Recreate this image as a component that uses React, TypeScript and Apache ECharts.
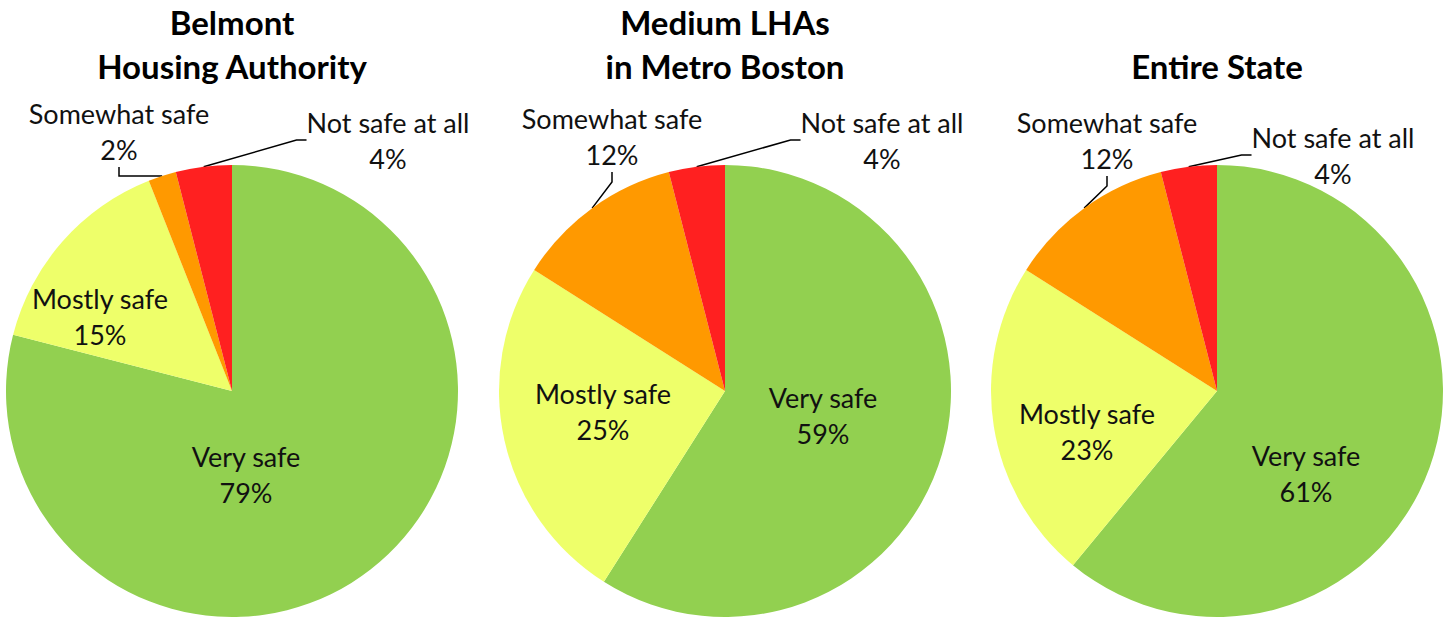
import React, { useEffect, useRef } from 'react';
import * as echarts from 'echarts';

const TITLES = ['Belmont\nHousing Authority', 'Medium LHAs\nin Metro Boston', 'Entire State'];
const CATEGORIES = ['Very safe', 'Mostly safe', 'Somewhat safe', 'Not safe at all'];
const BELMONT = [79, 15, 2, 4];
const MEDIUM_LHAS = [59, 25, 12, 4];
const ENTIRE_STATE = [61, 23, 12, 4];
const SERIES_VALUES = [BELMONT, MEDIUM_LHAS, ENTIRE_STATE];

const COLORS = ['#92D050', '#EEFF6A', '#FF9900', '#FF2020'];
const OUTSIDE = [false, false, true, true];

// layout (not data): pie centres and label anchor centres
const PIE_CENTERS: [number, number][] = [
  [232, 391],
  [725, 391],
  [1217, 391],
];
const PIE_RADIUS = 226;
const LABEL_POS: [number, number][][] = [
  [[246, 474], [100, 316], [119, 131], [388, 140]],
  [[823, 415], [603, 411], [612, 136], [882, 140]],
  [[1306, 473], [1087, 431], [1107, 140], [1333, 155]],
];
const TITLE_TOPS = [0, 0, 44];

const FONT = 'Lato, "Open Sans", sans-serif';

export default function App() {
  const ref = useRef<HTMLDivElement>(null);
  useEffect(() => {
    if (!ref.current) return;
    const chart = echarts.init(ref.current, undefined, { renderer: 'svg' });
    const option = {
      animation: false,
      backgroundColor: '#ffffff',
      title: TITLES.map((t, i) => ({
        text: t,
        left: PIE_CENTERS[i][0],
        top: TITLE_TOPS[i],
        textAlign: 'center',
        padding: 0,
        textStyle: {
          fontFamily: FONT,
          fontWeight: 'bold',
          fontSize: 33,
          lineHeight: 44,
          color: '#000',
        },
      })),
      series: SERIES_VALUES.map((vals, si) => ({
        type: 'pie',
        center: PIE_CENTERS[si],
        radius: PIE_RADIUS,
        startAngle: 90,
        clockwise: true,
        avoidLabelOverlap: false,
        silent: true,
        itemStyle: { borderWidth: 0 },
        label: {
          show: true,
          position: 'inside',
          formatter: '{b}\n{c}%',
          fontFamily: FONT,
          fontSize: 27,
          lineHeight: 36,
          color: '#111',
        },
        labelLine: {
          show: true,
          length: 15,
          length2: 10,
          lineStyle: { color: '#000', width: 1.5 },
        },
        labelLayout: (params: any) => {
          const p = LABEL_POS[params.seriesIndex][params.dataIndex];
          return { x: p[0], y: p[1], align: 'center', verticalAlign: 'middle' };
        },
        data: CATEGORIES.map((name, i) => ({
          name,
          value: vals[i],
          itemStyle: { color: COLORS[i] },
          label: { position: OUTSIDE[i] ? 'outside' : 'inside' },
          labelLine: { show: OUTSIDE[i] },
        })),
      })),
    };
    chart.setOption(option as any);
    return () => chart.dispose();
  }, []);
  return (
    <div
      ref={ref}
      style={{ position: 'fixed', left: 0, top: 0, width: 1450, height: 619 }}
    />
  );
}
